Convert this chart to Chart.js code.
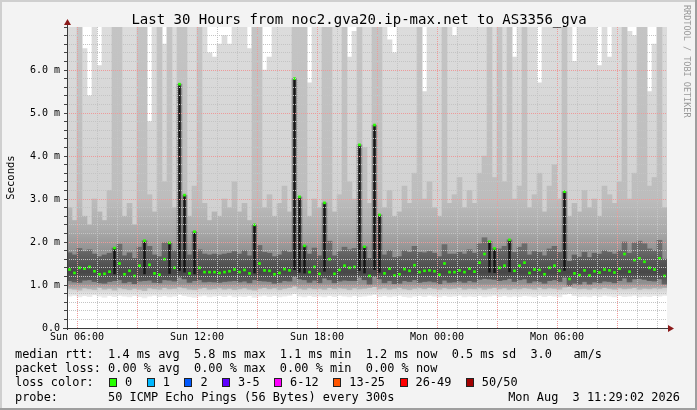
<!DOCTYPE html>
<html>
<head>
<meta charset="utf-8">
<title>Smokeping AS3356_gva</title>
<script src="https://cdn.jsdelivr.net/npm/chart.js@4.4.1/dist/chart.umd.min.js"></script>
<style>
  html, body { margin: 0; padding: 0; background: #f3f3f3; }
  #wrap { position: relative; width: 697px; height: 410px; overflow: hidden;
          font-family: "DejaVu Sans Mono", monospace; color: #000; }
  #wrap canvas { position: absolute; left: 0; top: 0; }
  #title { position: absolute; left: 0; width: 718px; top: 11px; text-align: center;
           font-size: 14px; line-height: 16px; white-space: pre; }
  #mark { position: absolute; left: 682px; top: 5px; writing-mode: vertical-rl;
          font-size: 8.5px; line-height: 10px; color: #999; white-space: pre; }
  .txt { position: absolute; left: 15px; white-space: pre; font-size: 11.9px; line-height: 14px; }
  #stamp { left: auto; right: 17px; }
  #lossRow { display: flex; align-items: center; }
  .box { display: inline-block; width: 6px; height: 7px; border: 1px solid #222; margin: 0 8px 0 1px; }
  .lab { margin-right: 13.5px; }
</style>
</head>
<body>
<div id="wrap">
  <canvas id="smoke" width="697" height="410"></canvas>
  <div id="title">Last 30 Hours from noc2.gva20.ip-max.net to AS3356_gva</div>
  <div id="mark">RRDTOOL / TOBI OETIKER</div>
  <div class="txt" style="top:347px">median rtt:  1.4 ms avg  5.8 ms max  1.1 ms min  1.2 ms now  0.5 ms sd  3.0   am/s</div>
  <div class="txt" style="top:361px">packet loss: 0.00 % avg  0.00 % max  0.00 % min  0.00 % now</div>
  <div class="txt" id="lossRow" style="top:375px"><span>loss color:  </span></div>
  <div class="txt" style="top:390px">probe:       50 ICMP Echo Pings (56 Bytes) every 300s</div>
  <div class="txt" id="stamp" style="top:390px">Mon Aug  3 11:29:02 2026</div>
</div>
<script>
// 30 hours from Sun 05:30, one column per 15 minutes (values in ms)
const hours = 30;
const stepHours = 0.25;
const tickLabels = ["Sun 06:00", "Sun 12:00", "Sun 18:00", "Mon 00:00", "Mon 06:00"];

const median = [
  1.36, 1.28, 1.40, 1.38, 1.42, 1.32, 1.25, 1.26, 1.31, 1.86,
  1.50, 1.25, 1.33, 1.21, 1.45, 2.03, 1.47, 1.27, 1.24, 1.60,
  1.98, 1.40, 5.67, 3.09, 1.27, 2.24, 1.40, 1.30, 1.30, 1.30,
  1.28, 1.30, 1.32, 1.36, 1.30, 1.35, 1.27, 2.40, 1.50, 1.34,
  1.33, 1.25, 1.28, 1.37, 1.34, 5.80, 3.05, 1.91, 1.30, 1.42,
  1.26, 2.91, 1.60, 1.26, 1.35, 1.45, 1.40, 1.42, 4.26, 1.89,
  1.21, 4.72, 2.63, 1.27, 1.38, 1.22, 1.25, 1.37, 1.33, 1.46,
  1.30, 1.33, 1.34, 1.32, 1.24, 1.50, 1.30, 1.30, 1.34, 1.30,
  1.38, 1.31, 1.52, 1.72, 2.01, 1.85, 1.40, 1.45, 2.05, 1.33,
  1.45, 1.52, 1.28, 1.36, 1.35, 1.25, 1.40, 1.45, 1.33, 3.17,
  1.14, 1.27, 1.23, 1.34, 1.22, 1.32, 1.29, 1.36, 1.34, 1.29,
  1.38, 1.72, 1.31, 1.58, 1.62, 1.54, 1.40, 1.36, 1.62, 1.21
];
const smokeMin = [
  0.74, 0.76, 0.72, 0.75, 0.73, 0.77, 0.74, 0.71, 0.75, 0.73,
  0.76, 0.74, 0.72, 0.75, 0.73, 0.70, 0.74, 0.76, 0.73, 0.75,
  0.72, 0.74, 0.78, 0.75, 0.73, 0.71, 0.74, 0.76, 0.72, 0.74,
  0.75, 0.73, 0.76, 0.72, 0.74, 0.73, 0.75, 0.71, 0.74, 0.76,
  0.73, 0.75, 0.72, 0.74, 0.76, 0.80, 0.74, 0.72, 0.75, 0.73,
  0.74, 0.72, 0.75, 0.73, 0.76, 0.74, 0.72, 0.75, 0.73, 0.74,
  0.76, 0.78, 0.73, 0.75, 0.72, 0.74, 0.76, 0.73, 0.71, 0.74,
  0.75, 0.73, 0.76, 0.74, 0.72, 0.75, 0.73, 0.74, 0.76, 0.72,
  0.74, 0.73, 0.75, 0.72, 0.74, 0.76, 0.73, 0.75, 0.72, 0.74,
  0.73, 0.75, 0.74, 0.72, 0.76, 0.73, 0.75, 0.74, 0.72, 0.78,
  0.80, 0.75, 0.73, 0.74, 0.72, 0.75, 0.73, 0.76, 0.74, 0.72,
  0.75, 0.73, 0.74, 0.76, 0.72, 0.74, 0.73, 0.75, 0.74, 0.76
];
const smokeP10 = [
  0.92, 0.90, 0.88, 0.93, 0.91, 0.89, 0.94, 0.90, 0.92, 0.88,
  0.93, 0.91, 0.89, 0.92, 0.90, 0.87, 0.93, 0.91, 0.90, 0.94,
  0.91, 0.92, 0.95, 0.93, 0.90, 0.89, 0.92, 0.94, 0.90, 0.91,
  0.93, 0.90, 0.92, 0.89, 0.91, 0.93, 0.90, 0.88, 0.92, 0.94,
  0.91, 0.93, 0.89, 0.92, 0.94, 0.97, 0.92, 0.90, 0.93, 0.91,
  0.92, 0.90, 0.94, 0.91, 0.93, 0.92, 0.89, 0.93, 0.91, 0.92,
  0.94, 0.96, 0.91, 0.93, 0.90, 0.92, 0.94, 0.91, 0.89, 0.92,
  0.93, 0.91, 0.94, 0.92, 0.90, 0.93, 0.91, 0.92, 0.94, 0.90,
  0.92, 0.91, 0.93, 0.90, 0.92, 0.94, 0.91, 0.93, 0.90, 0.92,
  0.91, 0.93, 0.92, 0.90, 0.94, 0.91, 0.93, 0.92, 0.90, 0.95,
  0.96, 0.93, 0.91, 0.92, 0.90, 0.93, 0.91, 0.94, 0.92, 0.90,
  0.93, 0.91, 0.92, 0.94, 0.90, 0.92, 0.91, 0.93, 0.92, 0.94
];
const smokeP25 = [
  1.10, 1.07, 1.06, 1.11, 1.12, 1.08, 1.05, 1.04, 1.08, 1.10,
  1.12, 1.05, 1.08, 1.03, 1.09, 1.10, 1.11, 1.06, 1.05, 1.12,
  1.11, 1.09, 1.18, 1.14, 1.06, 1.10, 1.12, 1.07, 1.08, 1.07,
  1.06, 1.08, 1.09, 1.10, 1.07, 1.09, 1.05, 1.12, 1.10, 1.09,
  1.08, 1.04, 1.06, 1.10, 1.09, 1.20, 1.14, 1.12, 1.06, 1.11,
  1.05, 1.16, 1.12, 1.05, 1.09, 1.11, 1.10, 1.10, 1.18, 1.12,
  1.02, 1.20, 1.14, 1.05, 1.10, 1.03, 1.04, 1.10, 1.08, 1.12,
  1.06, 1.08, 1.09, 1.07, 1.03, 1.11, 1.06, 1.07, 1.09, 1.06,
  1.10, 1.07, 1.13, 1.15, 1.14, 1.13, 1.10, 1.12, 1.15, 1.08,
  1.12, 1.14, 1.05, 1.09, 1.08, 1.04, 1.10, 1.12, 1.08, 1.18,
  0.98, 1.04, 1.02, 1.08, 1.02, 1.07, 1.05, 1.09, 1.08, 1.05,
  1.10, 1.16, 1.07, 1.14, 1.15, 1.13, 1.10, 1.09, 1.14, 1.02
];
const smokeP75 = [
  1.75, 1.70, 1.85, 1.78, 1.82, 1.72, 1.66, 1.70, 1.74, 1.86,
  1.95, 1.68, 1.75, 1.62, 1.88, 2.03, 1.90, 1.70, 1.66, 1.98,
  1.98, 1.80, 5.67, 3.09, 1.70, 2.24, 1.82, 1.72, 1.70, 1.72,
  1.70, 1.72, 1.74, 1.78, 1.72, 1.80, 1.68, 2.40, 1.92, 1.76,
  1.74, 1.66, 1.70, 1.80, 1.76, 5.80, 3.05, 1.91, 1.72, 1.86,
  1.68, 2.91, 2.02, 1.68, 1.78, 1.88, 1.82, 1.85, 4.26, 1.89,
  1.62, 4.72, 2.63, 1.70, 1.80, 1.64, 1.66, 1.80, 1.76, 1.90,
  1.76, 1.75, 1.78, 1.74, 1.66, 1.94, 1.72, 1.72, 1.76, 1.72,
  1.82, 1.74, 1.96, 2.10, 2.01, 1.85, 1.84, 1.90, 2.05, 1.76,
  1.88, 1.96, 1.70, 1.78, 1.76, 1.68, 1.84, 1.90, 1.76, 3.17,
  1.55, 1.70, 1.65, 1.76, 1.64, 1.74, 1.72, 1.80, 1.76, 1.72,
  1.80, 2.00, 1.74, 1.98, 2.02, 1.96, 1.84, 1.80, 2.04, 1.60
];
const smokeP90 = [
  2.8, 2.5, 7.2, 2.6, 2.4, 3.0, 2.7, 2.5, 3.2, 7.2,
  7.2, 2.6, 2.9, 2.4, 7.2, 7.2, 3.1, 2.7, 7.2, 3.4,
  7.2, 2.8, 7.2, 7.2, 2.6, 3.3, 7.2, 2.9, 2.5, 2.7,
  2.6, 3.0, 2.8, 3.4, 2.7, 2.9, 2.5, 7.2, 7.2, 2.8,
  3.1, 2.6, 2.9, 3.3, 2.7, 7.2, 7.2, 7.2, 2.6, 3.0,
  2.8, 7.2, 7.2, 2.7, 3.1, 7.2, 3.4, 3.0, 7.2, 4.2,
  2.9, 7.2, 7.2, 2.8, 3.2, 2.6, 2.7, 3.3, 2.9, 3.6,
  7.2, 3.0, 3.4, 2.8, 2.6, 7.2, 2.9, 3.1, 3.5, 2.8,
  3.2, 2.9, 3.6, 4.0, 7.2, 3.5, 7.2, 3.4, 7.2, 3.0,
  3.3, 7.2, 2.8, 3.1, 3.6, 2.7, 3.3, 3.8, 3.0, 7.2,
  2.6, 2.9, 2.7, 3.2, 2.8, 3.0, 2.6, 3.3, 3.1, 2.9,
  3.4, 7.2, 3.0, 3.6, 7.2, 7.2, 3.3, 3.5, 7.2, 2.8
];
const smokeMax = [
  7.2, 7.2, 7.2, 6.5, 5.4, 7.2, 6.1, 7.2, 7.2, 7.2,
  7.2, 7.2, 7.2, 7.2, 7.2, 7.2, 4.8, 7.2, 7.2, 6.6,
  7.2, 7.2, 7.2, 7.2, 7.2, 7.2, 7.2, 7.2, 6.4, 6.3,
  6.6, 6.8, 6.6, 7.2, 7.2, 7.2, 6.5, 7.2, 7.2, 6.0,
  6.3, 7.2, 7.2, 7.2, 7.2, 7.2, 7.2, 7.2, 5.7, 7.2,
  7.2, 7.2, 7.2, 7.2, 7.2, 7.2, 6.3, 6.9, 7.2, 7.2,
  7.2, 7.2, 7.2, 7.2, 6.7, 6.4, 7.2, 7.2, 7.2, 7.2,
  7.2, 5.5, 7.2, 7.2, 7.2, 7.2, 7.2, 6.8, 7.2, 7.2,
  7.2, 7.2, 7.2, 7.2, 7.2, 7.2, 7.2, 7.2, 7.2, 6.3,
  7.2, 7.2, 7.2, 7.2, 5.7, 7.2, 7.2, 7.2, 7.2, 7.2,
  7.2, 6.2, 7.2, 7.2, 7.2, 7.2, 6.1, 7.2, 6.3, 7.2,
  7.2, 7.2, 6.9, 6.8, 7.2, 7.2, 5.5, 6.6, 7.2, 7.2
];

const lossLabels = ["0", "1", "2", "3-5", "6-12", "13-25", "26-49", "50/50"];
const lossColors = ["#26ff00", "#00b8ff", "#0059ff", "#5e00ff", "#ff00ff", "#ff5500", "#ff0000", "#a10000"];

const lossRow = document.getElementById("lossRow");
lossLabels.forEach((l, i) => {
  const b = document.createElement("span");
  b.className = "box";
  b.style.background = lossColors[i];
  const t = document.createElement("span");
  t.className = "lab";
  t.textContent = l;
  lossRow.appendChild(b);
  lossRow.appendChild(t);
});

const mono = "'DejaVu Sans Mono', monospace";
const spikeAt = 1.8;
const colX = (i) => (i + 0.5) * stepHours;
const band = (lo, hi) => lo.map((v, i) => ({ x: colX(i), y: [v, hi[i]] }));
const spikes = median
  .map((v, i) => ({ x: colX(i), y: [smokeP25[i] + 0.15, v] }))
  .filter((d, i) => median[i] > spikeAt);

let gradCache = {};
function grad(chart, name, stops) {
  const area = chart.chartArea;
  if (!area || !chart.scales.y) return stops[0][1];
  const key = name + area.top + "_" + area.bottom;
  if (!gradCache[key]) {
    const y = chart.scales.y;
    const g = chart.ctx.createLinearGradient(0, y.getPixelForValue(0), 0, y.getPixelForValue(7));
    stops.forEach(([v, c]) => g.addColorStop(v / 7, c));
    gradCache[key] = g;
  }
  return gradCache[key];
}

const frame = {
  id: "frame",
  beforeDraw(chart) {
    const { ctx, chartArea: a, width, height } = chart;
    ctx.save();
    ctx.fillStyle = "#f3f3f3";
    ctx.fillRect(0, 0, width, height);
    ctx.fillStyle = "#cfcfcf";
    ctx.fillRect(0, 0, width, 2);
    ctx.fillRect(0, 0, 2, height);
    ctx.fillStyle = "#9e9e9e";
    ctx.fillRect(0, height - 2, width, 2);
    ctx.fillRect(width - 2, 0, 2, height);
    ctx.fillStyle = "#ffffff";
    ctx.fillRect(a.left, a.top, a.right - a.left, a.bottom - a.top);
    ctx.restore();
  },
  afterDraw(chart) {
    const { ctx, chartArea: a } = chart;
    ctx.save();
    ctx.strokeStyle = "#3a3a3a";
    ctx.lineWidth = 1;
    ctx.beginPath();
    ctx.moveTo(a.left + 0.5, a.bottom + 2);
    ctx.lineTo(a.left + 0.5, a.top - 5);
    ctx.moveTo(a.left - 4, a.bottom + 0.5);
    ctx.lineTo(a.right + 4, a.bottom + 0.5);
    ctx.stroke();
    ctx.fillStyle = "#8b1a1a";
    ctx.beginPath();
    ctx.moveTo(a.left - 3, a.top - 2);
    ctx.lineTo(a.left + 4, a.top - 2);
    ctx.lineTo(a.left + 0.5, a.top - 8);
    ctx.fill();
    ctx.beginPath();
    ctx.moveTo(a.right + 1, a.bottom - 3);
    ctx.lineTo(a.right + 1, a.bottom + 4);
    ctx.lineTo(a.right + 7, a.bottom + 0.5);
    ctx.fill();
    ctx.restore();
  }
};

new Chart(document.getElementById("smoke"), {
  type: "bar",
  plugins: [frame],
  data: {
    datasets: [
      {
        label: "median",
        type: "line",
        data: median.map((v, i) => ({ x: colX(i), y: v })),
        showLine: false,
        pointStyle: "rect",
        pointRadius: 1.9,
        pointBorderWidth: 0,
        pointBackgroundColor: "#26ff00",
        order: 0
      },
      {
        label: "spike",
        data: spikes,
        backgroundColor: "#151515",
        barPercentage: 0.5,
        order: 1
      },
      {
        label: "p25-p75",
        data: band(smokeP25, smokeP75),
        backgroundColor: (c) => grad(c.chart, "d", [[1.0, "#666666"], [1.3, "#474747"], [1.8, "#686868"], [3, "#8a8a8a"], [7, "#909090"]]),
        order: 2
      },
      {
        label: "p10-p90",
        data: band(smokeP10, smokeP90),
        backgroundColor: (c) => grad(c.chart, "m", [[0.88, "#bdbdbd"], [1.05, "#8e8e8e"], [1.8, "#929292"], [2.3, "#ababab"], [3.0, "#bdbdbd"], [7, "#c4c4c4"]]),
        order: 3
      },
      {
        label: "min-max",
        data: band(smokeMin, smokeMax),
        backgroundColor: (c) => grad(c.chart, "l", [[0.7, "#f0f0f0"], [0.8, "#e2e2e2"], [0.9, "#d2d2d2"], [2.0, "#cfcfcf"], [7, "#dcdcdc"]]),
        order: 4
      }
    ]
  },
  options: {
    responsive: false,
    devicePixelRatio: 1,
    animation: false,
    events: [],
    layout: { padding: { left: 0, right: 30, top: 27, bottom: 0 } },
    datasets: { bar: { grouped: false, barPercentage: 1, categoryPercentage: 1, borderWidth: 0 } },
    plugins: { legend: { display: false }, tooltip: { enabled: false } },
    scales: {
      x: {
        type: "linear",
        min: 0,
        max: hours,
        offset: false,
        z: 1,
        afterFit: (s) => { s.height = 82; },
        afterBuildTicks: (s) => {
          const t = [];
          for (let h = 0.5; h < hours; h += 1) t.push({ value: h });
          s.ticks = t;
        },
        grid: {
          z: 1,
          offset: false,
          drawTicks: false,
          color: (c) => ((c.tick.value - 0.5) % 3 === 0 ? "#ee9a9a" : "#c4c4c4")
        },
        border: { display: false, dash: [1, 1] },
        ticks: {
          autoSkip: false,
          maxRotation: 0,
          minRotation: 0,
          padding: 3,
          color: "#000",
          font: { family: mono, size: 10 },
          callback: (v) => {
            const k = (v - 0.5) / 6;
            return Number.isInteger(k) ? tickLabels[k] : "";
          }
        }
      },
      y: {
        min: 0,
        max: 7,
        z: 1,
        afterFit: (s) => { s.width = 67; },
        grid: {
          z: 1,
          tickLength: 3,
          tickColor: "#444",
          color: (c) => {
            const v = c.tick.value;
            if (v > 6.99) return "rgba(0,0,0,0)";
            return Math.abs(v - Math.round(v)) < 1e-6 ? "#ee9a9a" : "#c4c4c4";
          }
        },
        border: { display: false, dash: [1, 1] },
        title: { display: true, text: "Seconds", color: "#000", font: { family: mono, size: 10.5 }, padding: { top: 5, bottom: 0 } },
        ticks: {
          stepSize: 0.2,
          autoSkip: false,
          padding: 4,
          color: "#000",
          font: { family: mono, size: 10 },
          callback: (v) => {
            const r = Math.round(v);
            if (Math.abs(v - r) > 1e-6 || r >= 7) return "";
            return r === 0 ? "0.0" : r.toFixed(1) + " m";
          }
        }
      }
    }
  }
});
</script>
</body>
</html>
